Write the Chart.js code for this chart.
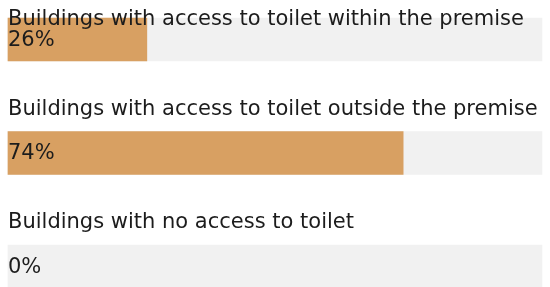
<!DOCTYPE html>
<html>
<head>
<meta charset="utf-8">
<script src="https://cdn.jsdelivr.net/npm/chart.js@4/dist/chart.umd.min.js"></script>
<style>
  html, body { margin: 0; padding: 0; background: #fff; overflow: hidden; }
  #wrap { position: relative; width: 550px; height: 287px; }
</style>
</head>
<body>
<div id="wrap"><canvas id="chart"></canvas></div>
<script>
const categories = [
    "Buildings with access to toilet within the premise",
    "Buildings with access to toilet outside the premise",
    "Buildings with no access to toilet"
];
const shares = [26, 74, 0];
const fullShares = [100, 100, 100];

const FONT = "21px 'DejaVu Sans'";
const TEXT_COLOR = "#1c1c1c";

// titles above each bar and the percentage inside it
const labelsPlugin = {
    id: "barLabels",
    afterDatasetsDraw(chart) {
        const ctx = chart.ctx;
        const meta = chart.getDatasetMeta(0);
        ctx.save();
        ctx.font = FONT;
        ctx.fillStyle = TEXT_COLOR;
        ctx.textAlign = "left";
        meta.data.forEach((bar, i) => {
            const props = bar.getProps(["x", "y", "base", "height"], true);
            const top = props.y - props.height / 2;
            const left = chart.chartArea.left;
            ctx.textBaseline = "alphabetic";
            const baseline = Math.max(top - 17, 25);
            ctx.fillText(categories[i], left, baseline);
            ctx.textBaseline = "middle";
            ctx.fillText(shares[i] + "%", left, props.y + 1);
        });
        ctx.restore();
    }
};

new Chart(document.getElementById("chart"), {
    type: "bar",
    data: {
        labels: categories,
        datasets: [
            {
                data: shares,
                backgroundColor: (c) => c.raw > 0 ? "#d8a062" : "rgba(0,0,0,0)",
                barThickness: 43,
                grouped: false,
                clip: false,
                order: 0
            },
            {
                data: fullShares,
                backgroundColor: "#f1f1f1",
                barThickness: 43,
                grouped: false,
                clip: false,
                order: 1
            }
        ]
    },
    options: {
        indexAxis: "y",
        responsive: true,
        maintainAspectRatio: false,
        animation: false,
        events: [],
        layout: { padding: { top: 39.5, bottom: 20.5, left: 8, right: 8 } },
        scales: {
            x: { display: false, min: 0, max: 100 },
            y: { display: false, offset: false }
        },
        plugins: {
            legend: { display: false },
            tooltip: { enabled: false }
        }
    },
    plugins: [labelsPlugin]
});
</script>
</body>
</html>
